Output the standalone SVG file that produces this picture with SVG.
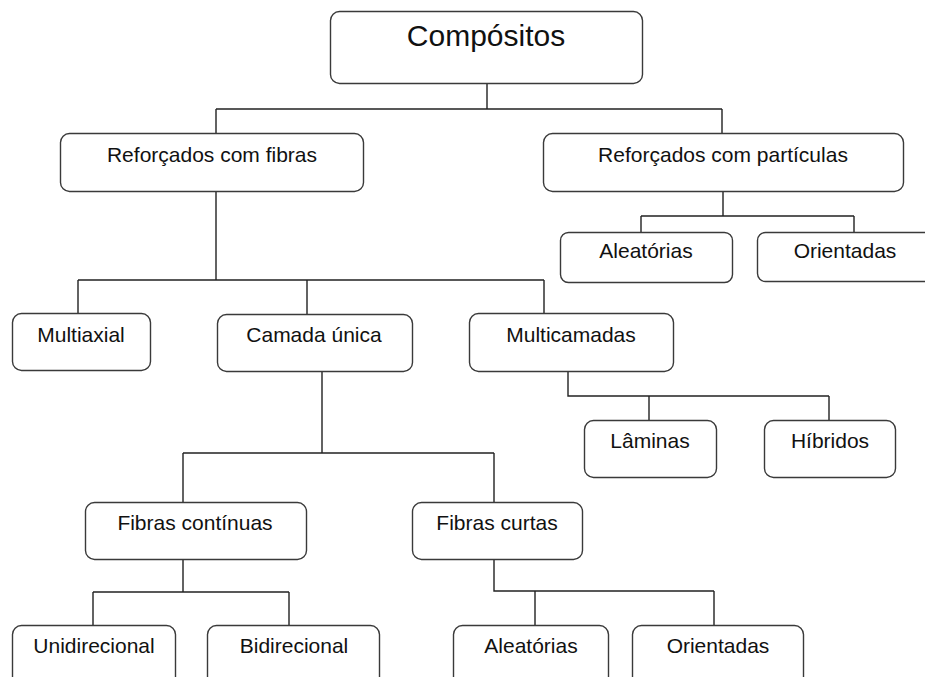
<svg xmlns="http://www.w3.org/2000/svg" width="925" height="677" viewBox="0 0 925 677">
<style>
.box{fill:#fff;stroke:#3a3a3a;stroke-width:1.4}
.lbl{font-family:"Liberation Sans",Arial,sans-serif;font-size:21px;fill:#111;text-anchor:middle}
.big{font-size:30px}
.con{fill:none;stroke:#222;stroke-width:1.4}
</style>
<rect width="925" height="677" fill="#fff"/>
<g id="connectors" class="con">
<path d="M487 83V109M216 109H722M216 109V133M722 109V133"/>
<path d="M216 191V280M78 280H544M78 280V313M307 280V314M544 280V313"/>
<path d="M723 191V216M641 216H854M641 216V232M854 216V233"/>
<path d="M568 371V396H829M649 396V420M829 396V420"/>
<path d="M322 371V453M183 453H494M183 453V502M494 453V502"/>
<path d="M183 559V592M93 592H289M93 592V625M289 592V625"/>
<path d="M494 559V591H714M535 591V625M714 591V625"/>
</g>
<g id="n-compositos"><rect class="box" x="330.5" y="11.5" width="312" height="72" rx="9"/><text class="lbl big" x="486" y="46">Compósitos</text></g>
<g id="n-fibras"><rect class="box" x="60.5" y="133.5" width="303" height="58" rx="9"/><text class="lbl" x="212" y="162">Reforçados com fibras</text></g>
<g id="n-particulas"><rect class="box" x="543.5" y="133.5" width="360" height="58" rx="9"/><text class="lbl" x="723" y="162">Reforçados com partículas</text></g>
<g id="n-aleatorias1"><rect class="box" x="560.5" y="232.5" width="172" height="50" rx="8"/><text class="lbl" x="646" y="258">Aleatórias</text></g>
<g id="n-orientadas1"><rect class="box" x="757.5" y="232.5" width="180" height="49" rx="8"/><text class="lbl" x="845" y="258">Orientadas</text></g>
<g id="n-multiaxial"><rect class="box" x="12.5" y="313.5" width="138" height="57" rx="9"/><text class="lbl" x="81" y="342">Multiaxial</text></g>
<g id="n-camada"><rect class="box" x="217.5" y="314.5" width="195" height="57" rx="9"/><text class="lbl" x="314" y="342">Camada única</text></g>
<g id="n-multicamadas"><rect class="box" x="469.5" y="313.5" width="204" height="58" rx="9"/><text class="lbl" x="571" y="342">Multicamadas</text></g>
<g id="n-laminas"><rect class="box" x="584.5" y="420.5" width="132" height="57" rx="9"/><text class="lbl" x="650" y="448">Lâminas</text></g>
<g id="n-hibridos"><rect class="box" x="764.5" y="420.5" width="131" height="57" rx="9"/><text class="lbl" x="830" y="448">Híbridos</text></g>
<g id="n-continuas"><rect class="box" x="85.5" y="502.5" width="221" height="57" rx="9"/><text class="lbl" x="195" y="530">Fibras contínuas</text></g>
<g id="n-curtas"><rect class="box" x="412.5" y="502.5" width="170" height="57" rx="9"/><text class="lbl" x="497" y="530">Fibras curtas</text></g>
<g id="n-unidirecional"><rect class="box" x="12.5" y="625.5" width="163" height="70" rx="9"/><text class="lbl" x="94" y="653">Unidirecional</text></g>
<g id="n-bidirecional"><rect class="box" x="207.5" y="625.5" width="172" height="70" rx="9"/><text class="lbl" x="294" y="653">Bidirecional</text></g>
<g id="n-aleatorias2"><rect class="box" x="453.5" y="625.5" width="155" height="70" rx="9"/><text class="lbl" x="531" y="653">Aleatórias</text></g>
<g id="n-orientadas2"><rect class="box" x="632.5" y="625.5" width="171" height="70" rx="9"/><text class="lbl" x="718" y="653">Orientadas</text></g>
</svg>
